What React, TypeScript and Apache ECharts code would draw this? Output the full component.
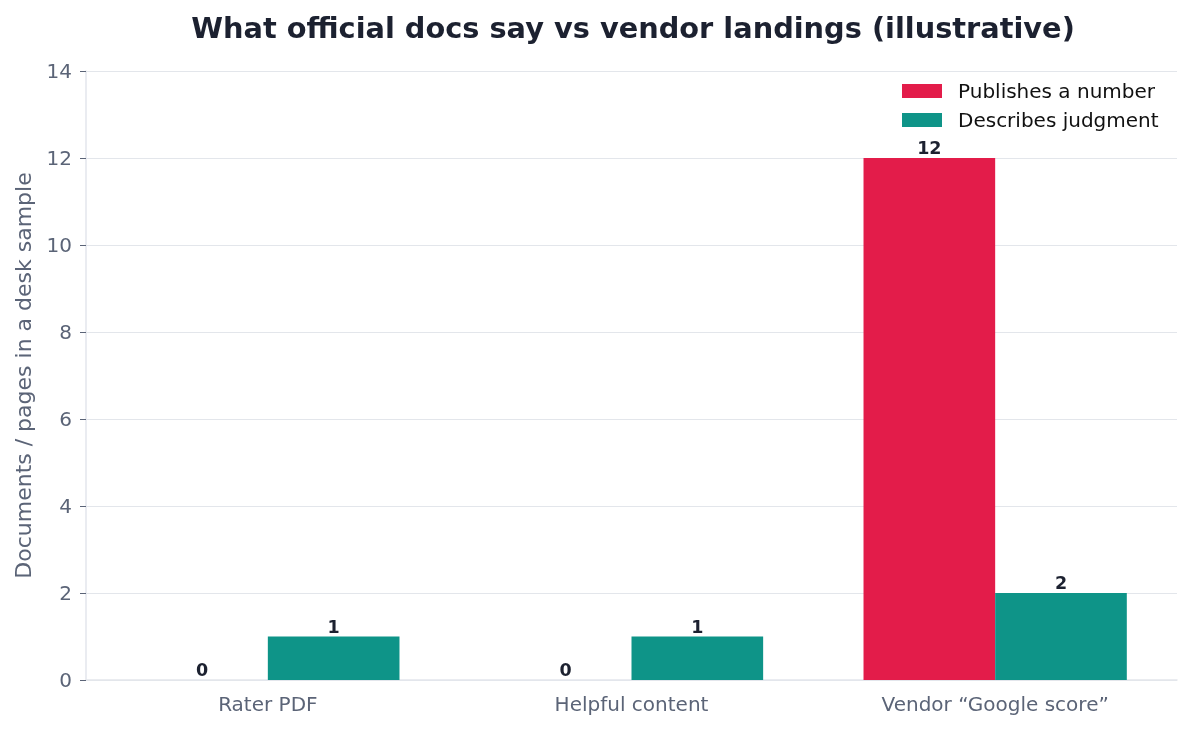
import React, { useEffect, useRef } from "react";
import * as echarts from "echarts";

const categories = ["Rater PDF", "Helpful content", "Vendor \u201cGoogle score\u201d"];
const seriesNames = ["Publishes a number", "Describes judgment"];
const publishesNumber = [0, 0, 12];
const describesJudgment = [1, 1, 2];

const FONT = "'DejaVu Sans', sans-serif";
const MUTED = "#5b6477";
const DARK = "#1c2130";

export default function App() {
  const chartRef = useRef<HTMLDivElement>(null);

  useEffect(() => {
    if (!chartRef.current) return;
    const chart = echarts.init(chartRef.current, null, { renderer: "svg" });
    // value labels above each bar
    const labelStyle = {
      show: true,
      position: "top" as const,
      fontFamily: FONT,
      fontWeight: "bold" as const,
      fontSize: 17.5,
      color: DARK,
      distance: 1,
    };
    chart.setOption({
      animation: false,
      textStyle: { fontFamily: FONT },
      title: {
        text: "What official docs say vs vendor landings (illustrative)",
        left: 628,
        top: 8,
        textAlign: "center",
        textStyle: { fontFamily: FONT, fontSize: 28.8, fontWeight: "bold", color: DARK },
      },
      legend: {
        orient: "vertical",
        left: 902,
        top: 81,
        padding: 0,
        align: "left",
        itemWidth: 40,
        itemHeight: 14,
        itemGap: 9,
        icon: "rect",
        textStyle: { fontFamily: FONT, fontSize: 20, color: "#111", padding: [0, 0, 0, 11] },
        data: seriesNames,
      },
      grid: { left: 86, right: 16, top: 71, bottom: 51, containLabel: false },
      xAxis: {
        type: "category",
        data: categories,
        axisLine: { lineStyle: { color: "#e3e6ec", width: 1.5 } },
        axisTick: { alignWithLabel: true, length: 6, lineStyle: { color: MUTED } },
        axisLabel: { fontFamily: FONT, fontSize: 20, color: MUTED, margin: 14 },
      },
      yAxis: {
        type: "value",
        min: 0,
        max: 14,
        interval: 2,
        name: "Documents / pages in a desk sample",
        nameLocation: "middle",
        nameGap: 52,
        nameTextStyle: { fontFamily: FONT, fontSize: 22, color: MUTED },
        axisLine: { show: true, lineStyle: { color: "#e3e6ec", width: 1.5 } },
        axisTick: { show: true, length: 6, lineStyle: { color: MUTED } },
        axisLabel: { fontFamily: FONT, fontSize: 20, color: MUTED, margin: 14 },
        splitLine: { lineStyle: { color: "#e3e6eb", width: 1.2 } },
      },
      series: [
        {
          name: seriesNames[0],
          type: "bar",
          data: publishesNumber,
          barWidth: "36.2%",
          barGap: "0%",
          itemStyle: { color: "#e31c4a" },
          label: labelStyle,
        },
        {
          name: seriesNames[1],
          type: "bar",
          data: describesJudgment,
          barWidth: "36.2%",
          itemStyle: { color: "#0e9488" },
          label: labelStyle,
        },
      ],
    });
    return () => {
      chart.dispose();
    };
  }, []);

  return <div ref={chartRef} style={{ width: 1193, height: 731, position: "fixed", left: 0, top: 0 }} />;
}
